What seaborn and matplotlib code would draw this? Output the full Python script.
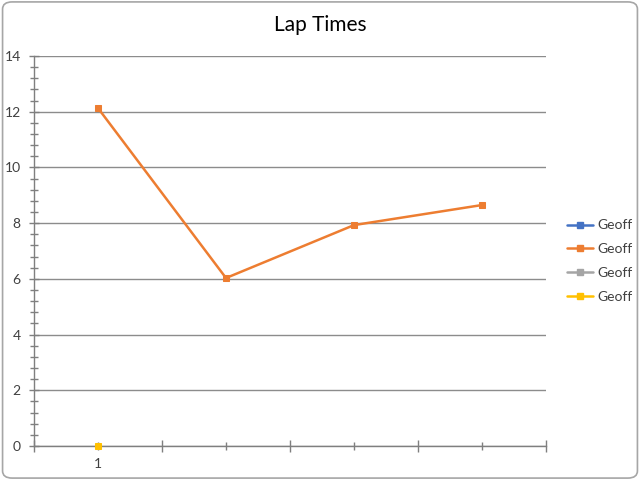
import matplotlib
matplotlib.use("Agg")
import matplotlib.pyplot as plt
import seaborn as sns
import numpy as np
from matplotlib.lines import Line2D
from matplotlib.patches import FancyBboxPatch
from matplotlib.ticker import MultipleLocator, FixedLocator

categories = ["1", "", "", ""]
series_names = ["Geoff", "Geoff", "Geoff", "Geoff"]
blue_vals = [np.nan, np.nan, np.nan, np.nan]
orange_vals = [12.13, 6.03, 7.93, 8.65]
gray_vals = [np.nan, np.nan, np.nan, np.nan]
yellow_vals = [0.0, np.nan, np.nan, np.nan]
colors = ["#4472C4", "#ED7D31", "#A5A5A5", "#FFC000"]
title = "Lap Times"

sns.set_style("white")
plt.rcParams['font.family'] = ['Lato', 'DejaVu Sans']

fig = plt.figure(figsize=(6.4, 4.8), dpi=100)
ax = fig.add_axes([34/640, 1-446/480, 512/640, 390/480])

xpos = np.arange(len(categories))
for vals, c in zip([blue_vals, orange_vals, gray_vals, yellow_vals], colors):
    v = np.array(vals, dtype=float)
    m = ~np.isnan(v)
    if m.any():
        sns.lineplot(x=xpos[m], y=v[m], ax=ax, color=c, marker='s', markersize=5,
                     markeredgecolor=c, linewidth=1.8, clip_on=False, zorder=5)

ax.set_xlim(-0.5, len(categories) - 0.5)
ax.set_ylim(0, 14)
ax.yaxis.set_major_locator(MultipleLocator(2))
ax.yaxis.set_minor_locator(MultipleLocator(0.4))
ax.xaxis.set_major_locator(FixedLocator(np.arange(len(categories) + 1) - 0.5))
ax.set_xticklabels([])
ax.set_xticks(xpos, minor=True)
ax.set_xticklabels(categories, minor=True)

ax.grid(axis='y', which='major', color='#8C8C8C', linewidth=1)
ax.set_axisbelow(True)
for s in ['top', 'right']:
    ax.spines[s].set_visible(False)
for s in ['left', 'bottom']:
    ax.spines[s].set_color('#7F7F7F')
    ax.spines[s].set_linewidth(1)

ax.tick_params(axis='y', which='major', left=True, direction='inout', length=7, width=1,
               color='#7F7F7F', labelsize=10, labelcolor='#404040', pad=6)
ax.tick_params(axis='y', which='minor', left=True, direction='inout', length=6, width=1,
               color='#7F7F7F')
ax.tick_params(axis='x', which='major', bottom=True, direction='inout', length=8, width=1,
               color='#7F7F7F')
ax.tick_params(axis='x', which='minor', bottom=True, direction='inout', length=6, width=1,
               color='#7F7F7F', labelsize=10, labelcolor='#404040', pad=6)

fig.text(0.5, 1 - 25/480, title, ha='center', va='center', fontsize=15, color='#000000')

handles = [Line2D([0], [0], color=c, marker='s', markersize=5, linewidth=1.8) for c in colors]
fig.legend(handles, series_names, loc='center left', bbox_to_anchor=(0.866, 0.456),
           frameon=False, fontsize=10, handlelength=1.9, handletextpad=0.3,
           labelspacing=0.85, labelcolor='#404040')

border = FancyBboxPatch((0.004, 0.004), 0.992, 0.992, boxstyle="round,pad=0,rounding_size=0.015",
                        transform=fig.transFigure, facecolor='none', edgecolor='#A6A6A6',
                        linewidth=1.2)
fig.patches.append(border)

fig.savefig("out.png", dpi=100)
